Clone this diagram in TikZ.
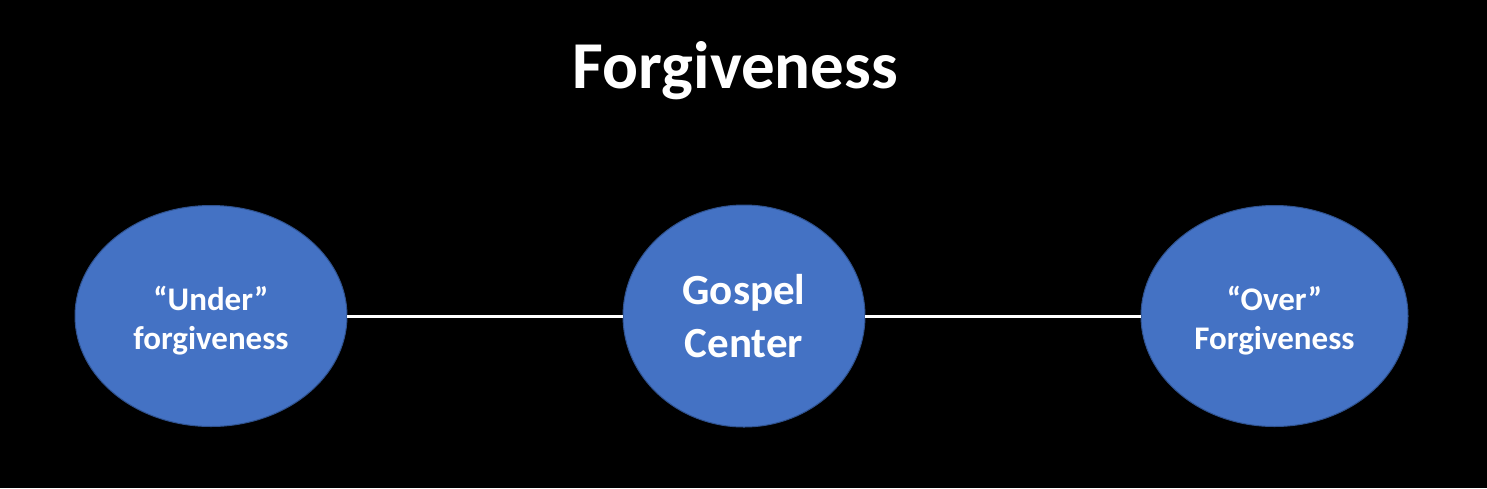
\documentclass[tikz,border=0pt]{standalone}
\usepackage{fontspec}
\setmainfont{Carlito}
\usetikzlibrary{shapes.geometric}
\definecolor{fillblue}{HTML}{4472C4}
\definecolor{edgeblue}{HTML}{2F528F}
\begin{document}
\begin{tikzpicture}[x=1pt,y=-1pt,
  bubble/.style={ellipse, draw=edgeblue, line width=1pt, fill=fillblue, text=white, align=center, inner sep=0pt, outer sep=0pt},
  smalltxt/.style={font=\fontsize{33}{39}\selectfont\bfseries, text=white, align=center, yshift=-5pt},
  bigtxt/.style={font=\fontsize{43}{53}\selectfont\bfseries},
  link/.style={draw=white, line width=3pt}]
\fill[black] (0,0) rectangle (1487,488);
\useasboundingbox (0,0) rectangle (1487,488);
\node[font=\fontsize{67}{80}\selectfont\bfseries, text=white, anchor=base] (title) at (735.5,88) {Forgiveness};
\node[bubble, minimum width=272pt, minimum height=221pt,
  label={[smalltxt]center:“Under”\\forgiveness}] (under) at (211,316) {};
\node[bubble, bigtxt, minimum width=242pt, minimum height=222pt] (center) at (744,316) {Gospel\\Center};
\node[bubble, minimum width=267pt, minimum height=221pt,
  label={[smalltxt]center:“Over”\\Forgiveness}] (over) at (1274.5,316) {};
\draw[link] (under.east) -- (center.west);
\draw[link] (center.east) -- (over.west);
\end{tikzpicture}
\end{document}
